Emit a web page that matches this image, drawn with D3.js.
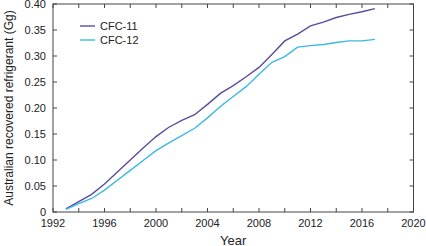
<!DOCTYPE html>
<html><head><meta charset="utf-8">
<script src="https://cdn.jsdelivr.net/npm/d3@7"></script>
<style>body{margin:0;background:#fff}svg{display:block}text{font-family:"Liberation Sans",Arial,sans-serif;fill:#222}</style>
</head><body><svg id="c" width="426" height="246"></svg>
<script>
const years = [1993,1994,1995,1996,1997,1998,1999,2000,2001,2002,2003,2004,2005,2006,2007,2008,2009,2010,2011,2012,2013,2014,2015,2016,2017];
const cfc11 = [0.006,0.020,0.034,0.054,0.077,0.100,0.123,0.145,0.163,0.176,0.187,0.207,0.228,0.243,0.260,0.278,0.303,0.329,0.342,0.358,0.365,0.374,0.380,0.385,0.391];
const cfc12 = [0.005,0.016,0.026,0.042,0.061,0.080,0.099,0.118,0.133,0.147,0.161,0.181,0.203,0.222,0.241,0.265,0.288,0.299,0.317,0.320,0.322,0.326,0.329,0.329,0.332];
const seriesNames = ["CFC-11","CFC-12"];
const colors = ["#5a4b9e","#3bb9e3"];
const xTicks = [1992,1996,2000,2004,2008,2012,2016,2020];
const yTicks = [0,0.05,0.10,0.15,0.20,0.25,0.30,0.35,0.40];

const svg = d3.select("#c");
const L=53,R=413.5,T=4,B=212;
const x = d3.scaleLinear().domain([1992,2020]).range([L,R]);
const y = d3.scaleLinear().domain([0,0.40]).range([B,T]);
const minorX = d3.range(1992,2021,2);
const fmtY = d=> d===0?"0":d3.format(".2f")(d);

svg.append("rect").attr("x",L).attr("y",T).attr("width",R-L).attr("height",B-T)
  .attr("fill","none").attr("stroke","#444").attr("stroke-width",1);

const tickLen=4;
const g = svg.append("g").attr("stroke","#444").attr("stroke-width",1);
minorX.forEach(v=>{
  g.append("line").attr("x1",x(v)).attr("x2",x(v)).attr("y1",B).attr("y2",B-tickLen);
  g.append("line").attr("x1",x(v)).attr("x2",x(v)).attr("y1",T).attr("y2",T+tickLen);
});
yTicks.forEach(v=>{
  g.append("line").attr("x1",L).attr("x2",L+tickLen).attr("y1",y(v)).attr("y2",y(v));
  g.append("line").attr("x1",R).attr("x2",R-tickLen).attr("y1",y(v)).attr("y2",y(v));
});
svg.selectAll(".xl").data(xTicks).enter().append("text")
  .attr("x",d=>x(d)).attr("y",B+15).attr("text-anchor","middle").attr("font-size",11).text(d=>d);
svg.selectAll(".yl").data(yTicks).enter().append("text")
  .attr("x",L-7).attr("y",d=>y(d)+4).attr("text-anchor","end").attr("font-size",11).text(fmtY);

svg.append("text").attr("x",(L+R)/2).attr("y",244.5).attr("text-anchor","middle").attr("font-size",13).text("Year");
svg.append("text").attr("transform",`translate(13,108) rotate(-90)`).attr("text-anchor","middle")
  .attr("font-size",12).text("Australian recovered refrigerant (Gg)");

const line = d3.line().x((d,i)=>x(years[i])).y(d=>y(d));
[cfc11,cfc12].forEach((s,k)=>{
  svg.append("path").datum(s).attr("d",line).attr("fill","none").attr("stroke",colors[k]).attr("stroke-width",1.4);
});
seriesNames.forEach((n,k)=>{
  const ly = 26 + k*14;
  svg.append("line").attr("x1",80).attr("x2",95).attr("y1",ly).attr("y2",ly).attr("stroke",colors[k]).attr("stroke-width",1.4);
  svg.append("text").attr("x",100).attr("y",ly+4).attr("font-size",11).text(n);
});
</script></body></html>
